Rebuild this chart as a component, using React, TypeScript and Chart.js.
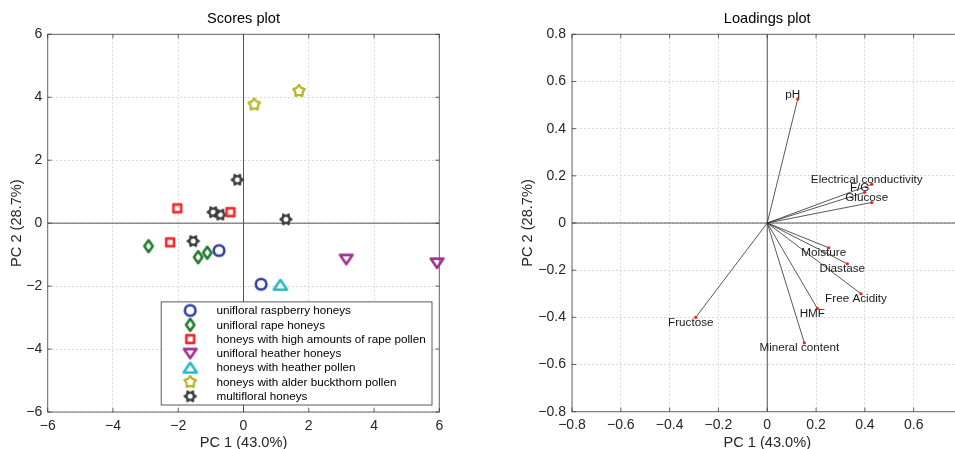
import React, { useEffect, useRef } from 'react';
import { Chart, registerables } from 'chart.js';

Chart.register(...registerables);

const FONT = '"Liberation Sans", Arial, Helvetica, sans-serif';

// ---------- Scores plot data ----------
const groupLabels = [
  'unifloral raspberry honeys',
  'unifloral rape honeys',
  'honeys with high amounts of rape pollen',
  'unifloral heather honeys',
  'honeys with heather pollen',
  'honeys with alder buckthorn pollen',
  'multifloral honeys',
];
const raspberryScores = [[-0.75, -0.87], [0.54, -1.94]];
const rapeScores = [[-2.91, -0.73], [-1.39, -1.08], [-1.11, -0.94]];
const rapePollenScores = [[-2.03, 0.47], [-0.40, 0.35], [-2.25, -0.61]];
const heatherScores = [[3.15, -1.15], [5.93, -1.27]];
const heatherPollenScores = [[1.13, -1.96]];
const alderScores = [[0.33, 3.77], [1.70, 4.20]];
const multifloralScores = [[-0.19, 1.38], [-0.93, 0.35], [-0.71, 0.27], [1.30, 0.12], [-1.54, -0.57]];
const scoreTicks = [-6, -4, -2, 0, 2, 4, 6];

// ---------- Loadings plot data ----------
const loadingNames = ['pH', 'Electrical conductivity', 'F/G', 'Glucose', 'Moisture', 'Diastase', 'Free Acidity', 'HMF', 'Mineral content', 'Fructose'];
const loadingPC1 = [0.125, 0.428, 0.399, 0.428, 0.252, 0.328, 0.384, 0.205, 0.152, -0.293];
const loadingPC2 = [0.526, 0.164, 0.130, 0.087, -0.105, -0.173, -0.300, -0.362, -0.508, -0.400];
const loadingTicks = [-0.8, -0.6, -0.4, -0.2, 0, 0.2, 0.4, 0.6, 0.8];
const loadingXLabelMax = 0.6;

const groupStyles = [
  { marker: 'circle', color: '#2f3f9f' },
  { marker: 'diamond', color: '#237a30' },
  { marker: 'square', color: '#f02a2a' },
  { marker: 'down', color: '#9e2f98' },
  { marker: 'up', color: '#2cb7c0' },
  { marker: 'star', color: '#b6b62a' },
  { marker: 'gear', color: '#3d3d3d' },
];
const groupData = [raspberryScores, rapeScores, rapePollenScores, heatherScores, heatherPollenScores, alderScores, multifloralScores];

function makeMarker(kind: string, color: string) {
  const c = document.createElement('canvas');
  c.width = 20; c.height = 20;
  const g = c.getContext('2d')!;
  g.translate(10, 10);
  g.strokeStyle = color; g.fillStyle = color;
  g.lineWidth = 2.6; g.lineJoin = 'round';
  g.beginPath();
  if (kind === 'circle') {
    g.arc(0, 0, 5.3, 0, Math.PI * 2);
    g.stroke();
  } else if (kind === 'diamond') {
    g.moveTo(0, -5.9); g.lineTo(4.2, 0); g.lineTo(0, 5.9); g.lineTo(-4.2, 0); g.closePath();
    g.stroke();
  } else if (kind === 'square') {
    g.rect(-3.9, -3.9, 7.8, 7.8);
    g.stroke();
  } else if (kind === 'down') {
    g.moveTo(-6.3, -4.4); g.lineTo(6.3, -4.4); g.lineTo(0, 4.8); g.closePath();
    g.stroke();
  } else if (kind === 'up') {
    g.moveTo(-6.6, 4.7); g.lineTo(6.6, 4.7); g.lineTo(0, -5); g.closePath();
    g.stroke();
  } else if (kind === 'star') {
    for (let i = 0; i < 10; i++) {
      const r = i % 2 === 0 ? 6 : 3.8;
      const a = -Math.PI / 2 + (i * Math.PI) / 5;
      const x = r * Math.cos(a), y = r * Math.sin(a);
      if (i === 0) g.moveTo(x, y); else g.lineTo(x, y);
    }
    g.closePath();
    g.lineWidth = 2.3;
    g.stroke();
  } else if (kind === 'gear') {
    for (let i = 0; i < 24; i++) {
      const r = (Math.floor(i / 2) % 2 === 0) ? 6.6 : 4.9;
      const a = (i * Math.PI) / 12 - Math.PI / 24;
      const x = r * Math.cos(a), y = r * Math.sin(a);
      if (i === 0) g.moveTo(x, y); else g.lineTo(x, y);
    }
    g.closePath();
    g.fill();
    g.globalCompositeOperation = 'destination-out';
    g.beginPath();
    g.arc(0, 0, 2.5, 0, Math.PI * 2);
    g.fill();
    g.globalCompositeOperation = 'source-over';
  }
  return c;
}

const fmtInt = (v: number) => (v < 0 ? '\u2212' + Math.abs(v) : String(v));
const fmtDec = (v: number) => {
  const r = Math.round(v * 10) / 10;
  if (r === 0) return '0';
  return (r < 0 ? '\u2212' : '') + Math.abs(r).toFixed(1);
};
const fmtDecX = (v: number) => (v > loadingXLabelMax + 0.05 ? '' : fmtDec(v));

function framePlugin(title: string) {
  return {
    id: 'frame',
    beforeDatasetsDraw(chart: any) {
      const { ctx, chartArea: a, scales } = chart;
      const xs = scales.x, ys = scales.y;
      ctx.save();
      ctx.strokeStyle = '#555555';
      ctx.lineWidth = 1;
      const x0 = xs.getPixelForValue(0), y0 = ys.getPixelForValue(0);
      ctx.beginPath();
      ctx.moveTo(x0, a.top); ctx.lineTo(x0, a.bottom);
      ctx.moveTo(a.left, y0); ctx.lineTo(a.right, y0);
      ctx.stroke();
      ctx.strokeStyle = '#666666';
      ctx.strokeRect(a.left, a.top, a.right - a.left, a.bottom - a.top);
      ctx.strokeStyle = '#3a3a3a';
      ctx.lineWidth = 0.8;
      ctx.beginPath();
      xs.ticks.forEach((t: any) => {
        const p = xs.getPixelForValue(t.value);
        ctx.moveTo(p, a.bottom); ctx.lineTo(p, a.bottom - 4);
        ctx.moveTo(p, a.top); ctx.lineTo(p, a.top + 4);
      });
      ys.ticks.forEach((t: any) => {
        const p = ys.getPixelForValue(t.value);
        ctx.moveTo(a.left, p); ctx.lineTo(a.left + 4, p);
        ctx.moveTo(a.right, p); ctx.lineTo(a.right - 4, p);
      });
      ctx.stroke();
      ctx.restore();
    },
    afterDraw(chart: any) {
      const { ctx, chartArea: a } = chart;
      ctx.save();
      ctx.font = `14.6px ${FONT}`;
      ctx.fillStyle = '#000';
      ctx.textAlign = 'center';
      ctx.textBaseline = 'middle';
      ctx.fillText(title, (a.left + a.right) / 2, a.top - 15.3);
      ctx.restore();
    },
  };
}

const legendPlugin = {
  id: 'boxLegend',
  afterDatasetsDraw(chart: any) {
    const { ctx, chartArea } = chart;
    const items = chart.data.datasets;
    ctx.save();
    ctx.font = `11.7px ${FONT}`;
    const maxW = Math.max(...items.map((d: any) => ctx.measureText(d.label).width));
    const rowH = 14.3;
    const w = 55.3 + maxW + 6.3;
    const h = rowH * (items.length - 1) + 17.3;
    const right = chartArea.right - 7.3;
    const bottom = chartArea.bottom - 7;
    const left = right - w;
    const top = bottom - h;
    ctx.fillStyle = '#fff';
    ctx.fillRect(left, top, w, h);
    ctx.strokeStyle = '#333';
    ctx.lineWidth = 0.8;
    ctx.strokeRect(left, top, w, h);
    items.forEach((d: any, i: number) => {
      const cy = top + 8.6 + i * rowH;
      const img = d.pointStyle;
      ctx.drawImage(img, left + 29 - img.width / 2, cy - img.height / 2);
      ctx.fillStyle = '#000';
      ctx.textBaseline = 'middle';
      ctx.textAlign = 'left';
      ctx.fillText(d.label, left + 55.3, cy + 0.5);
    });
    ctx.restore();
  },
};

const loadingLabelPlugin = {
  id: 'loadingLabels',
  afterDatasetsDraw(chart: any) {
    const { ctx, scales } = chart;
    ctx.save();
    ctx.font = `11.7px ${FONT}`;
    ctx.fillStyle = '#1a1a1a';
    ctx.textAlign = 'center';
    ctx.textBaseline = 'middle';
    loadingNames.forEach((name, i) => {
      const px = scales.x.getPixelForValue(loadingPC1[i]);
      const py = scales.y.getPixelForValue(loadingPC2[i]);
      ctx.fillText(name, px - 5, py + (loadingPC2[i] > 0 ? -4.5 : 5));
    });
    ctx.restore();
  },
};

function axisOpts(min: number, max: number, step: number, fmt: (v: number) => string, title: string, isX: boolean, fixed: number, titlePad: any, tickPad: number) {
  return {
    type: 'linear',
    min, max,
    ticks: {
      stepSize: step,
      callback: (v: any) => fmt(Number(v)),
      font: { family: FONT, size: 14 },
      color: '#262626',
      padding: tickPad,
      maxRotation: 0,
      autoSkip: false,
    },
    grid: { color: '#d9d9d9', lineWidth: 1, drawTicks: false },
    border: { display: false, dash: [2, 2] },
    title: {
      display: true,
      text: title,
      font: { family: FONT, size: 14.6, lineHeight: 1 },
      color: '#262626',
      padding: titlePad,
    },
    afterFit: (s: any) => {
      if (isX) s.height = fixed; else s.width = fixed;
    },
  };
}

export default function App() {
  const leftRef = useRef<HTMLCanvasElement>(null);
  const rightRef = useRef<HTMLCanvasElement>(null);

  useEffect(() => {
    const left = new Chart(leftRef.current!, {
      type: 'scatter',
      data: {
        datasets: groupLabels.map((label, i) => ({
          label,
          data: groupData[i].map(([x, y]) => ({ x, y })),
          pointStyle: makeMarker(groupStyles[i].marker, groupStyles[i].color) as any,
          pointRadius: 7,
          borderColor: groupStyles[i].color,
          backgroundColor: groupStyles[i].color,
          showLine: false,
          clip: false as any,
        })),
      },
      options: {
        responsive: false,
        animation: false,
        devicePixelRatio: 1,
        events: [],
        layout: { padding: { left: 0, top: 34.3, right: 40.7, bottom: 0 } },
        plugins: { legend: { display: false }, tooltip: { enabled: false }, title: { display: false } },
        scales: {
          x: {
            ...axisOpts(scoreTicks[0], scoreTicks[scoreTicks.length - 1], 2, fmtInt, 'PC 1 (43.0%)', true, 37, { top: 0, bottom: -1.6 }, 5.3),
          } as any,
          y: {
            ...axisOpts(scoreTicks[0], scoreTicks[scoreTicks.length - 1], 2, fmtInt, 'PC 2 (28.7%)', false, 47.7, { top: 9.9, bottom: 0 }, 5.5),
          } as any,
        },
      },
      plugins: [framePlugin('Scores plot'), legendPlugin],
    } as any);

    const right = new Chart(rightRef.current!, {
      type: 'scatter',
      data: {
        datasets: loadingNames.map((name, i) => ({
          label: name,
          data: [{ x: 0, y: 0 }, { x: loadingPC1[i], y: loadingPC2[i] }],
          showLine: true,
          borderColor: '#2e2e2e',
          borderWidth: 0.8,
          pointRadius: [0, 1.6],
          pointBackgroundColor: '#ff1a1a',
          pointBorderWidth: 0,
          clip: false as any,
        })),
      },
      options: {
        responsive: false,
        animation: false,
        devicePixelRatio: 1,
        events: [],
        layout: { padding: { left: 0, top: 34.3, right: 17.5, bottom: 0 } },
        plugins: { legend: { display: false }, tooltip: { enabled: false }, title: { display: false } },
        scales: {
          x: {
            ...axisOpts(loadingTicks[0], loadingTicks[loadingTicks.length - 1], 0.2, fmtDecX, 'PC 1 (43.0%)', true, 37.3, { top: 0, bottom: -1.6 }, 5.3),
          } as any,
          y: {
            ...axisOpts(loadingTicks[0], loadingTicks[loadingTicks.length - 1], 0.2, fmtDec, 'PC 2 (28.7%)', false, 92, { top: 41, bottom: 0 }, 6),
          } as any,
        },
      },
      plugins: [framePlugin('Loadings plot'), loadingLabelPlugin],
    } as any);

    return () => {
      left.destroy();
      right.destroy();
    };
  }, []);

  return (
    <div style={{ position: 'fixed', left: 0, top: 0, width: 955, height: 449, overflow: 'hidden', background: '#fff' }}>
      <div style={{ position: 'absolute', left: 0, top: 0, width: 480, height: 449 }}>
        <canvas ref={leftRef} width={480} height={449} style={{ display: 'block' }} />
      </div>
      <div style={{ position: 'absolute', left: 480, top: 0, width: 500, height: 449 }}>
        <canvas ref={rightRef} width={500} height={449} style={{ display: 'block' }} />
      </div>
    </div>
  );
}
